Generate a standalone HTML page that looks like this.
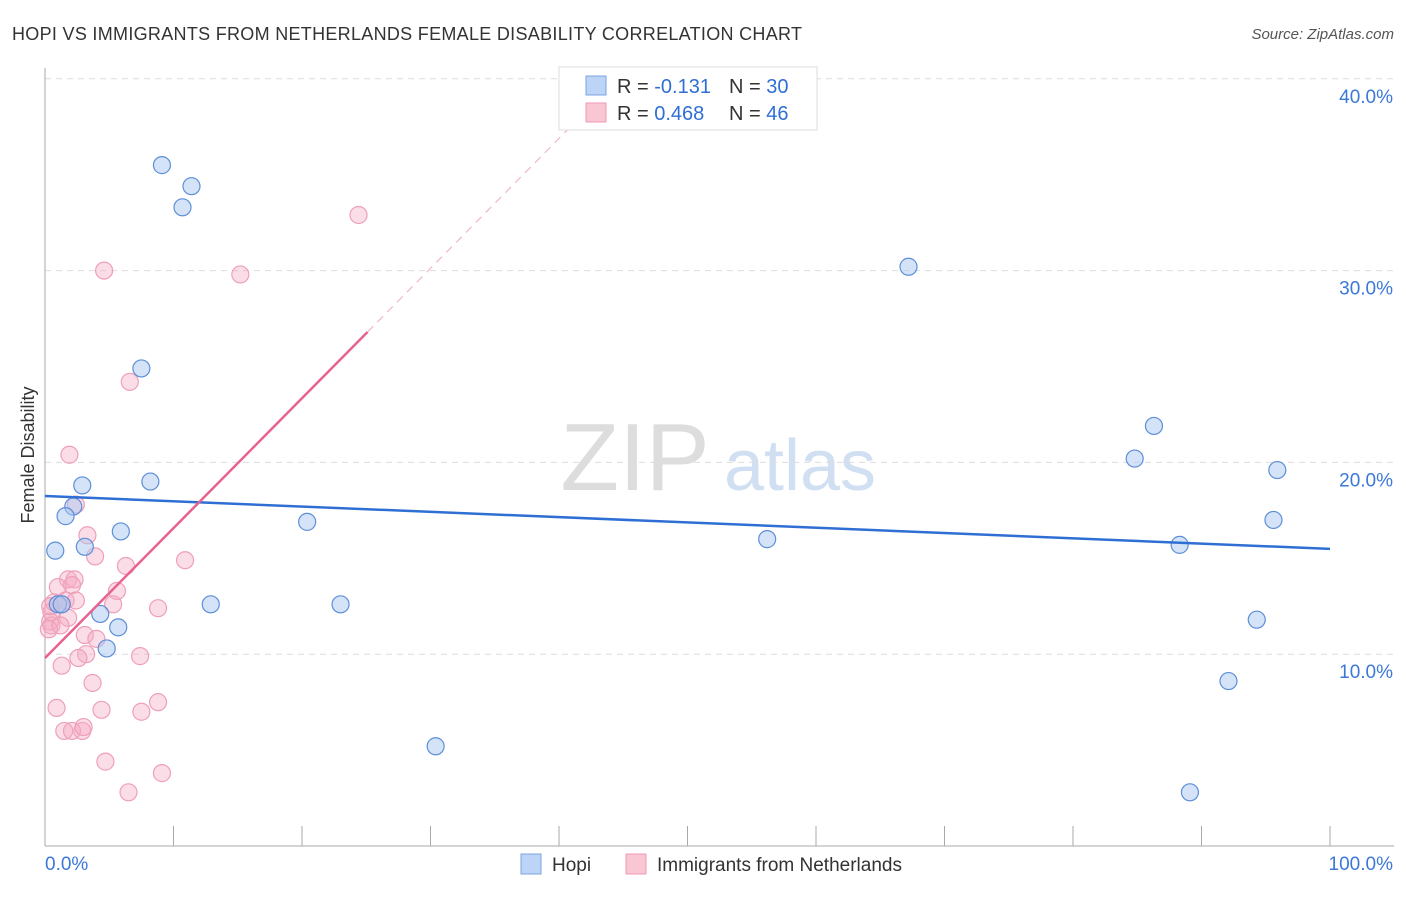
<!DOCTYPE html>
<html><head><meta charset="utf-8"><style>
body{margin:0;background:#fff;font-family:"Liberation Sans",sans-serif;}
svg text{font-family:"Liberation Sans",sans-serif;}
</style></head><body>
<svg id="chart" width="1406" height="892" xmlns="http://www.w3.org/2000/svg">
<text x="12" y="40" font-size="18" fill="#333" textLength="790">HOPI VS IMMIGRANTS FROM NETHERLANDS FEMALE DISABILITY CORRELATION CHART</text>
<text x="1394" y="39" font-size="15" fill="#555" font-style="italic" text-anchor="end">Source: ZipAtlas.com</text>
<text x="34" y="455" font-size="18" fill="#333" transform="rotate(-90 34 455)" text-anchor="middle">Female Disability</text>
<g><text x="635" y="490" font-size="96" fill="#ddd" font-family="Liberation Serif" text-anchor="middle">ZIP</text><text x="800" y="490" font-size="72" fill="#d0dff2" text-anchor="middle">atlas</text></g>
<g id="grid"></g><g id="axes"></g><g id="marks"></g>
<g>
<rect x="559" y="67" width="258" height="63" fill="#fff" stroke="#ddd"/>
<rect x="586" y="76" width="20" height="19" fill="#bcd4f5" stroke="#7aa5e0"/>
<rect x="586" y="103" width="20" height="19" fill="#f9c6d4" stroke="#ee9ab3"/>
<text x="617" y="93" font-size="20" fill="#333">R = <tspan fill="#2f6fd4">-0.131</tspan></text>
<text x="729" y="93" font-size="20" fill="#333">N = <tspan fill="#2f6fd4">30</tspan></text>
<text x="617" y="120" font-size="20" fill="#333">R = <tspan fill="#2f6fd4">0.468</tspan></text>
<text x="729" y="120" font-size="20" fill="#333">N = <tspan fill="#2f6fd4">46</tspan></text>
</g>
<g>
<rect x="521" y="854" width="20" height="20" fill="#bcd4f5" stroke="#7aa5e0"/><text x="552" y="871" font-size="19" fill="#333">Hopi</text>
<rect x="626" y="854" width="20" height="20" fill="#f9c6d4" stroke="#ee9ab3"/><text x="657" y="871" font-size="19" fill="#333">Immigrants from Netherlands</text>
</g>
</svg>
<script>
const yTicks=[10,20,30,40];
const xTickLabels=["0.0%","100.0%"];
const hopiX=[9.1,11.4,10.7,67.2,7.5,86.3,84.8,95.9,8.2,2.9,2.2,1.6,20.4,95.6,5.9,0.8,3.1,56.2,88.3,12.9,23,1.0,4.3,5.7,94.3,4.8,92.1,30.4,89.1,1.3];
const hopiY=[35.5,34.4,33.3,30.2,24.9,21.9,20.2,19.6,19.0,18.8,17.7,17.2,16.9,17.0,16.4,15.4,15.6,16.0,15.7,12.6,12.6,12.6,12.1,11.4,11.8,10.3,8.6,5.2,2.8,12.6];
const nethX=[4.6,15.2,24.4,6.6,1.9,2.4,3.3,3.9,6.3,10.9,1.8,2.3,2.1,1.0,5.6,1.6,2.4,0.7,1.3,5.3,0.5,8.8,1.8,0.4,0.5,0.3,3.1,4.0,3.2,2.6,7.4,1.3,3.7,0.9,2.9,4.4,7.5,8.8,1.5,2.1,3.0,4.7,9.1,6.5,0.4,1.2];
const nethY=[30.0,29.8,32.9,24.2,20.4,17.8,16.2,15.1,14.6,14.9,13.9,13.9,13.6,13.5,13.3,12.8,12.8,12.7,12.6,12.6,12.2,12.4,11.9,11.7,11.5,11.3,11.0,10.8,10.0,9.8,9.9,9.4,8.5,7.2,6.0,7.1,7.0,7.5,6.0,6.0,6.2,4.4,3.8,2.8,12.5,11.5];
const hopiTrend=[18.25,15.49];
const nethTrend=[9.8,26.8];
const X=v=>45+v*12.85, Y=v=>846-v*19.18;
const NS="http://www.w3.org/2000/svg";
function mk(p,t,a){const e=document.createElementNS(NS,t);for(const k in a)e.setAttribute(k,a[k]);p.appendChild(e);return e;}
const grid=document.getElementById('grid'),axes=document.getElementById('axes'),marks=document.getElementById('marks');
yTicks.forEach(t=>{
const l=mk(grid,'line',{x1:45,x2:1394,y1:Y(t),y2:Y(t),stroke:'#ddd','stroke-dasharray':'6,5'});


const tx=mk(axes,'text',{x:1393,y:Y(t)+24,'font-size':19,fill:'#3b78d8','text-anchor':'end'});tx.textContent=t.toFixed(1)+'%';


});
mk(axes,'line',{x1:45,x2:45,y1:68,y2:846,stroke:'#aaa'});
mk(axes,'line',{x1:45,x2:1394,y1:846,y2:846,stroke:'#aaa'});
for(let i=1;i<=10;i++){mk(axes,'line',{x1:X(i*10),x2:X(i*10),y1:826,y2:846,stroke:'#aaa'});}
const xl0=mk(axes,'text',{x:45,y:870,'font-size':19,fill:'#3b78d8'});xl0.textContent=xTickLabels[0];


const xl1=mk(axes,'text',{x:1393,y:870,'font-size':19,fill:'#3b78d8','text-anchor':'end'});xl1.textContent=xTickLabels[1];


nethX.forEach((v,i)=>{const c=mk(marks,'circle',{cx:X(v),cy:Y(nethY[i]),r:8.5,fill:'rgba(246,170,195,0.4)',stroke:'#eea0b8','stroke-width':1.2});

});
hopiX.forEach((v,i)=>{const c=mk(marks,'circle',{cx:X(v),cy:Y(hopiY[i]),r:8.5,fill:'rgba(170,200,242,0.5)',stroke:'#5d8fd8','stroke-width':1.2});

});
const bl=mk(marks,'line',{x1:X(0),y1:Y(hopiTrend[0]),x2:X(100),y2:Y(hopiTrend[1]),stroke:'#2f6fd4','stroke-width':2.5});


const ps=(nethTrend[1]-nethTrend[0])/25.1;
const pl=mk(marks,'line',{x1:X(0),y1:Y(nethTrend[0]),x2:X(25.1),y2:Y(nethTrend[1]),stroke:'#e8628f','stroke-width':2.5});


const pd=mk(marks,'line',{x1:X(25.1),y1:Y(nethTrend[1]),x2:X(41),y2:Y(nethTrend[0]+ps*41),stroke:'#f0b6c8','stroke-width':1.2,'stroke-dasharray':'8,6'});


</script>
</body></html>
